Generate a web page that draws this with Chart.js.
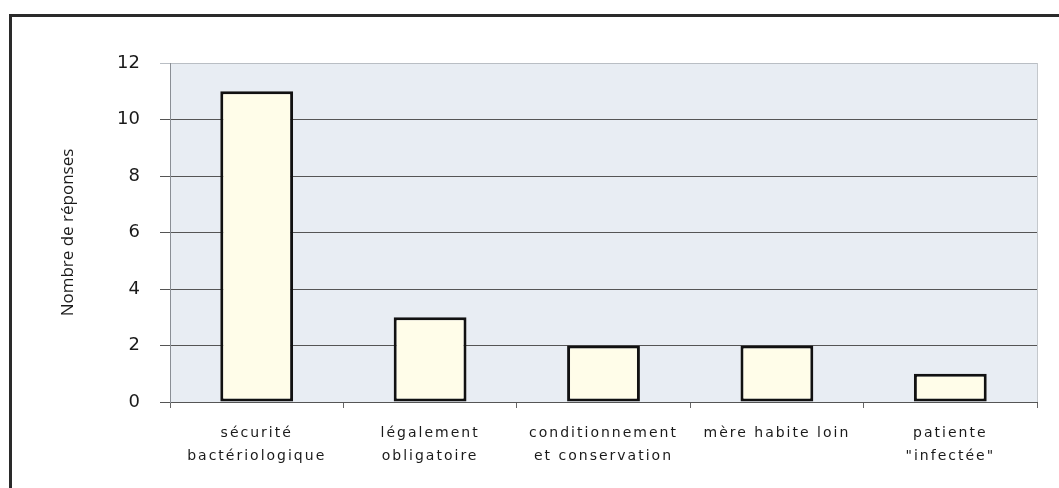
<!DOCTYPE html>
<html><head><meta charset="utf-8">
<style>html,body{margin:0;padding:0;background:#fff;}#wrap{width:1059px;height:488px;position:relative;}</style>
<script src="https://cdn.jsdelivr.net/npm/chart.js@4/dist/chart.umd.min.js"></script>
</head><body><div id="wrap"><canvas id="c" width="1059" height="488"></canvas></div>
<script>
const categories = [["sécurité","bactériologique"],["légalement","obligatoire"],["conditionnement","et conservation"],["mère habite loin"],["patiente","\"infectée\""]];
const responses = [11, 3, 2, 2, 1];
const yTicks = [0, 2, 4, 6, 8, 10, 12];
const yTitle = "Nombre de réponses";

const decor = {
  id: 'decor',
  beforeDraw(chart) {
    const ctx = chart.ctx, a = chart.chartArea;
    ctx.save();
    ctx.fillStyle = '#fff';
    ctx.fillRect(0, 0, chart.width, chart.height);
    ctx.fillStyle = '#E8EDF3';
    ctx.fillRect(a.left, a.top, a.right - a.left, a.bottom - a.top);
    ctx.strokeStyle = '#c4c8cc';
    ctx.lineWidth = 1;
    ctx.beginPath();
    ctx.moveTo(a.right + 0.5, a.top); ctx.lineTo(a.right + 0.5, a.bottom);
    ctx.stroke();
    ctx.restore();
    const xs = chart.scales.x;
    if (!xs._lsPatched) {
      const orig = xs.drawLabels;
      xs.drawLabels = function (area) { const c = this.ctx; c.save(); c.letterSpacing = '2px'; orig.call(this, area); c.restore(); };
      xs._lsPatched = true;
    }
  },
  afterDraw(chart) {
    const ctx = chart.ctx;
    ctx.save();
    ctx.strokeStyle = '#2a2a2a';
    ctx.lineWidth = 3;
    ctx.beginPath();
    ctx.moveTo(10.5, 488); ctx.lineTo(10.5, 15.5); ctx.lineTo(1059, 15.5);
    ctx.stroke();
    ctx.restore();
  }
};

new Chart(document.getElementById('c'), {
  type: 'bar',
  data: {
    labels: categories,
    datasets: [{
      data: responses,
      backgroundColor: '#FFFDE9',
      borderColor: '#111',
      borderWidth: 3,
      borderSkipped: false,
      barPercentage: 0.42,
      categoryPercentage: 1
    }]
  },
  options: {
    responsive: false,
    animation: false,
    events: [],
    layout: { padding: { top: 63, right: 22, left: 0, bottom: 0 } },
    plugins: { legend: { display: false }, tooltip: { enabled: false } },
    scales: {
      x: {
        afterFit(s) { s.height = 86; },
        grid: { offset: true, drawOnChartArea: false, drawTicks: true, tickLength: 6, color: '#666', lineWidth: 1 },
        border: { color: '#555', width: 1 },
        ticks: { color: '#1a1a1a', padding: 13, maxRotation: 0, autoSkip: false,
          font: { family: 'DejaVu Sans', size: 14, lineHeight: 1.7 } }
      },
      y: {
        min: 0, max: 12,
        afterFit(s) { s.width = 170; },
        afterBuildTicks(s) { s.ticks = yTicks.map(v => ({ value: v })); },
        grid: { color: (c) => c.tick && c.tick.value === 12 ? '#b9bec4' : '#555', lineWidth: 1, tickLength: 10, drawTicks: true },
        border: { color: '#8a8f95', width: 1 },
        ticks: { color: '#1a1a1a', padding: 20, font: { family: 'DejaVu Sans', size: 18 } },
        title: { display: true, text: yTitle, color: '#1a1a1a', padding: { top: 58 },
          font: { family: 'Open Sans', size: 17 } }
      }
    }
  },
  plugins: [decor]
});
</script></body></html>
